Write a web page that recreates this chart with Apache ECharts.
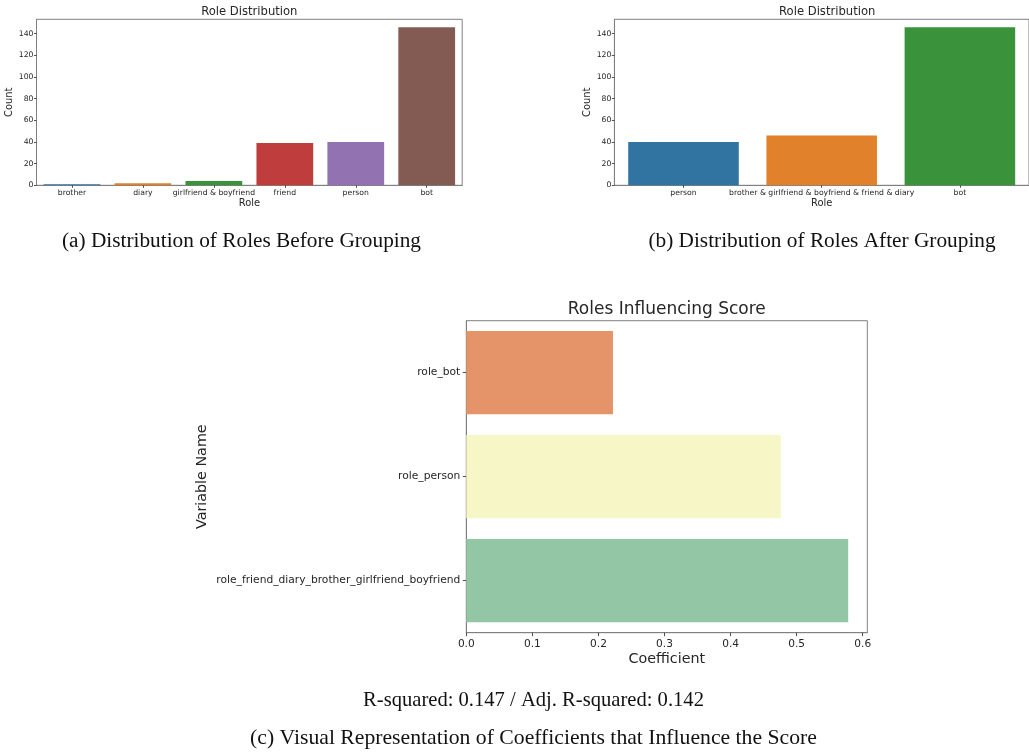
<!DOCTYPE html>
<html>
<head>
<meta charset="utf-8">
<script src="https://cdn.jsdelivr.net/npm/echarts@6/dist/echarts.min.js"></script>
<style>
  html, body { margin: 0; padding: 0; background: #ffffff; }
  #chart { width: 1029px; height: 753px; }
</style>
</head>
<body>
<div id="chart"></div>
<script>
// Role counts before grouping
const rolesBefore = ['brother', 'diary', 'girlfriend & boyfriend', 'friend', 'person', 'bot'];
const countsBefore = [1, 2, 4, 39, 40, 146];

// Role counts after grouping the small roles together
const rolesAfter = ['person', 'brother & girlfriend & boyfriend & friend & diary', 'bot'];
const countsAfter = [40, 46, 146];

// Regression coefficients per role dummy
const variables = ['role_bot', 'role_person', 'role_friend_diary_brother_girlfriend_boyfriend'];
const coefficients = [0.222, 0.476, 0.578];

// Tick labels
const countTicks = [0, 20, 40, 60, 80, 100, 120, 140];
const coefTicks = [0.0, 0.1, 0.2, 0.3, 0.4, 0.5, 0.6];

// Captions
const captionA = '(a) Distribution of Roles Before Grouping';
const captionB = '(b) Distribution of Roles After Grouping';
const rSquaredLine = 'R-squared: 0.147 / Adj. R-squared: 0.142';
const captionC = '(c) Visual Representation of Coefficients that Influence the Score';

// Styling
const tab10 = ['#3274a1', '#e1812c', '#3a923a', '#c03d3e', '#9372b2', '#845b53'];
const spectral = ['#e5946a', '#f6f6c6', '#92c6a5'];
const SANS = 'DejaVu Sans';
const SERIF = 'Liberation Serif';
const FRAME = '#808080';
const TEXT = '#262626';

const countMax = Math.max(...countsBefore, ...countsAfter) * 1.05;
const coefMax = Math.max(...coefficients) * 1.05;

function countGrid(left) {
  return { left: left, top: 19.3, width: 425.7, height: 166, show: true,
           borderColor: FRAME, borderWidth: 1, backgroundColor: 'transparent' };
}

function roleXAxis(gridIndex, cats) {
  return {
    type: 'category', gridIndex: gridIndex, data: cats,
    name: 'Role', nameLocation: 'middle', nameGap: 12.5,
    nameTextStyle: { fontFamily: SANS, fontSize: 9.9, color: TEXT },
    axisLine: { show: true, lineStyle: { color: FRAME, width: 1 } },
    axisTick: { show: true, alignWithLabel: true, length: 2.5, lineStyle: { color: TEXT, width: 0.8 } },
    axisLabel: { interval: 0, hideOverlap: false, margin: 4, fontFamily: SANS, fontSize: 7.7, color: TEXT },
    splitLine: { show: false }
  };
}

function countYAxis(gridIndex) {
  return {
    type: 'value', gridIndex: gridIndex, min: 0, max: countMax, interval: 20,
    name: 'Count', nameLocation: 'middle', nameGap: 16,
    nameTextStyle: { fontFamily: SANS, fontSize: 9.9, color: TEXT },
    axisLine: { show: true, lineStyle: { color: FRAME, width: 1 } },
    axisTick: { show: true, length: 2.5, customValues: countTicks, lineStyle: { color: TEXT, width: 0.8 } },
    axisLabel: { customValues: countTicks, margin: 3, fontFamily: SANS, fontSize: 7.7, color: TEXT },
    splitLine: { show: false }
  };
}

function coloured(values, palette) {
  return values.map((v, i) => ({ value: v, itemStyle: { color: palette[i % palette.length] } }));
}

function txt(text, x, y, font, color) {
  return {
    type: 'text', x: x, y: y, silent: true,
    style: { text: text, font: font, fill: color || TEXT,
             textAlign: 'center', textVerticalAlign: 'middle', align: 'center', verticalAlign: 'middle' }
  };
}

const option = {
  backgroundColor: '#ffffff',
  animation: false,
  grid: [
    countGrid(36.5),
    countGrid(614.4),
    { left: 466.3, top: 320.7, width: 401, height: 312, show: true,
      borderColor: FRAME, borderWidth: 1, backgroundColor: 'transparent' }
  ],
  xAxis: [
    roleXAxis(0, rolesBefore),
    roleXAxis(1, rolesAfter),
    {
      type: 'value', gridIndex: 2, min: 0, max: coefMax,
      name: 'Coefficient', nameLocation: 'middle', nameGap: 20,
      nameTextStyle: { fontFamily: SANS, fontSize: 14.3, color: TEXT },
      axisLine: { show: true, lineStyle: { color: FRAME, width: 1 } },
      axisTick: { show: true, length: 3.5, customValues: coefTicks, lineStyle: { color: TEXT, width: 0.8 } },
      axisLabel: { customValues: coefTicks, margin: 6, fontFamily: SANS, fontSize: 10.6, color: TEXT,
                   formatter: v => v.toFixed(1) },
      splitLine: { show: false }
    }
  ],
  yAxis: [
    countYAxis(0),
    countYAxis(1),
    {
      type: 'category', gridIndex: 2, data: variables, inverse: true,
      name: 'Variable Name', nameLocation: 'middle', nameGap: 257,
      nameTextStyle: { fontFamily: SANS, fontSize: 14.3, color: TEXT },
      axisLine: { show: true, lineStyle: { color: FRAME, width: 1 } },
      axisTick: { show: true, alignWithLabel: true, length: 3.5, lineStyle: { color: TEXT, width: 0.8 } },
      axisLabel: { interval: 0, margin: 6, fontFamily: SANS, fontSize: 10.7, color: TEXT },
      splitLine: { show: false }
    }
  ],
  series: [
    { type: 'bar', xAxisIndex: 0, yAxisIndex: 0, barCategoryGap: '20%',
      data: coloured(countsBefore, tab10) },
    { type: 'bar', xAxisIndex: 1, yAxisIndex: 1, barCategoryGap: '20%',
      data: coloured(countsAfter, tab10) },
    { type: 'bar', xAxisIndex: 2, yAxisIndex: 2, barCategoryGap: '20%',
      data: coloured(coefficients, spectral) }
  ],
  graphic: { elements: [
    txt('Role Distribution', 249.3, 12, '11.6px "' + SANS + '"'),
    txt('Role Distribution', 827.2, 12, '11.6px "' + SANS + '"'),
    txt('Roles Influencing Score', 666.8, 310, '17px "' + SANS + '"'),
    txt(captionA, 241.5, 241, '21.3px "' + SERIF + '"', '#111'),
    txt(captionB, 822, 241, '21.3px "' + SERIF + '"', '#111'),
    txt(rSquaredLine, 533.5, 700.5, '20.6px "' + SERIF + '"', '#111'),
    txt(captionC, 533.5, 738, '21.7px "' + SERIF + '"', '#111')
  ] }
};

const chart = echarts.init(document.getElementById('chart'), null, { renderer: 'canvas' });
chart.setOption(option);
</script>
</body>
</html>
